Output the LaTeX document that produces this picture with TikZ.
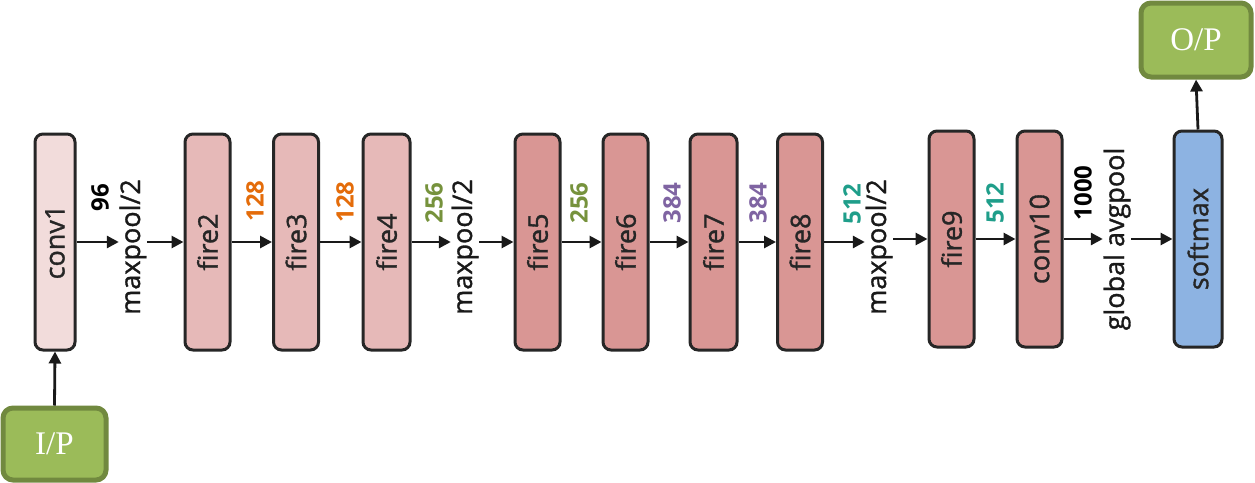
\documentclass[tikz,border=0pt]{standalone}
\usepackage{fontspec}
\setmainfont{Liberation Serif}
\setsansfont{Open Sans}
\newfontfamily\labfont[FakeBold=1.2]{Open Sans}
\usetikzlibrary{arrows.meta}
\definecolor{pinkA}{HTML}{F2DCDB}
\definecolor{pinkB}{HTML}{E6B9B8}
\definecolor{pinkC}{HTML}{D99694}
\definecolor{blueS}{HTML}{8DB3E2}
\definecolor{greenF}{HTML}{9BBB59}
\definecolor{greenD}{HTML}{71893F}
\definecolor{numOr}{HTML}{E46C0A}
\definecolor{numGr}{HTML}{76923C}
\definecolor{numPu}{HTML}{7F64A2}
\definecolor{numTe}{HTML}{1F9E8A}
\tikzset{
  layer/.style={draw=black!85, line width=3pt, rounded corners=8pt, minimum width=45pt, minimum height=216pt, inner sep=0pt},
  lbl/.style={rotate=90, font=\labfont\fontsize{27}{30}\selectfont, text=black!85},
  num/.style={rotate=90, font=\sffamily\bfseries\fontsize{24}{27}\selectfont, inner sep=0pt},
  pool/.style={rotate=90, font=\labfont\fontsize{27}{30}\selectfont, inner sep=0.5pt, text=black!90},
  io/.style={draw=greenD, fill=greenF, line width=5pt, rounded corners=10pt, text=white, font=\fontsize{33}{36}\selectfont},
  arr/.style={line width=2.8pt, draw=black!90, -{Triangle[length=12pt,width=12pt]}},
}
\begin{document}
\begin{tikzpicture}[x=1pt,y=-1pt]
\useasboundingbox (0,0) rectangle (1255,482);
% layers
\node[layer, fill=pinkA, minimum width=40pt] (conv1) at (55,242) {};
\node[lbl] at (conv1) {conv1};
\node[layer, fill=pinkB] (fire2) at (207.5,242) {};
\node[lbl] at (fire2) {fire2};
\node[layer, fill=pinkB] (fire3) at (296,242) {};
\node[lbl] at (fire3) {fire3};
\node[layer, fill=pinkB, minimum width=47pt] (fire4) at (386.5,242) {};
\node[lbl] at (fire4) {fire4};
\node[layer, fill=pinkC] (fire5) at (537.5,242) {};
\node[lbl] at (fire5) {fire5};
\node[layer, fill=pinkC] (fire6) at (625.5,242) {};
\node[lbl] at (fire6) {fire6};
\node[layer, fill=pinkC, minimum width=47pt] (fire7) at (713.5,242) {};
\node[lbl] at (fire7) {fire7};
\node[layer, fill=pinkC] (fire8) at (800,242) {};
\node[lbl] at (fire8) {fire8};
\node[layer, fill=pinkC] (fire9) at (951.5,239) {};
\node[lbl] at (fire9) {fire9};
\node[layer, fill=pinkC] (conv10) at (1039.5,239) {};
\node[lbl] at (conv10) {conv10};
\node[layer, fill=blueS, minimum width=48pt] (softmax) at (1198,239) {};
\node[lbl] at (softmax) {softmax};
% io
\node[io, minimum width=103pt, minimum height=72pt] (ip) at (54.5,444) {I/P};
\node[io, minimum width=110pt, minimum height=74pt] (op) at (1196,40) {O/P};
% pool texts
\node[pool] (m1) at (133,247) {maxpool/2};
\node[pool] (m2) at (465,247) {maxpool/2};
\node[pool] (m3) at (879,247) {maxpool/2};
\node[pool] (gp) at (1117,239) {global avgpool};
% numbers
\node[num, text=black] (n96) at (100,198) {96};
\node[num, text=numOr] (n128a) at (255,201) {128};
\node[num, text=numOr] (n128b) at (345,202) {128};
\node[num, text=numGr] (n256a) at (434,203) {256};
\node[num, text=numGr] (n256b) at (579,203) {256};
\node[num, text=numPu] (n384a) at (672,203) {384};
\node[num, text=numPu] (n384b) at (758,203) {384};
\node[num, text=numTe] (n512a) at (852,204) {512};
\node[num, text=numTe] (n512b) at (995,203) {512};
\node[num, text=black] (n1000) at (1083,193) {1000};
% arrows
\draw[arr] (ip.north) -- (conv1.south);
\draw[arr] (conv1.east) -- (conv1.east -| m1.north);
\draw[arr] (m1.south |- fire2.west) -- (fire2.west);
\draw[arr] (fire2) -- (fire3);
\draw[arr] (fire3) -- (fire4);
\draw[arr] (fire4.east) -- (fire4.east -| m2.north);
\draw[arr] (m2.south |- fire5.west) -- (fire5.west);
\draw[arr] (fire5) -- (fire6);
\draw[arr] (fire6) -- (fire7);
\draw[arr] (fire7) -- (fire8);
\draw[arr] (fire8.east) -- (fire8.east -| m3.north);
\draw[arr] (m3.south |- fire9.west) -- (fire9.west);
\draw[arr] (fire9) -- (conv10);
\draw[arr] (conv10.east) -- (conv10.east -| gp.north);
\draw[arr] (gp.south |- softmax.west) -- (softmax.west);
\draw[arr] (softmax.north) -- (op.south);
\end{tikzpicture}
\end{document}
